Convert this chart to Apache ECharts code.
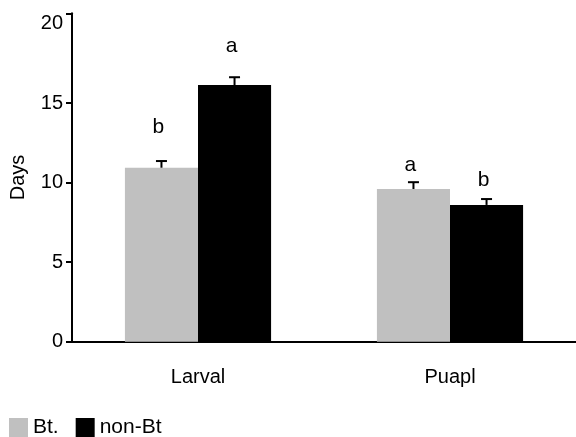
<!DOCTYPE html>
<html><head><meta charset="utf-8">
<script src="https://cdn.jsdelivr.net/npm/echarts@6/dist/echarts.min.js"></script>
<style>html,body{margin:0;padding:0;background:#fff}#c{width:576px;height:437px}</style>
</head><body><div id="c"></div>
<script>
var categories = ['Larval', 'Puapl'];
var seriesNames = ['Bt.', 'non-Bt'];
var btValues = [10.94, 9.6];
var nonBtValues = [16.14, 8.6];
var btErrors = [0.42, 0.43];
var nonBtErrors = [0.49, 0.37];
var btLetters = ['b', 'a'];
var nonBtLetters = ['a', 'b'];
var btLetterPos = [13.5, 11.1];
var nonBtLetterPos = [18.55, 10.15];
var yLabelValues = [0, 5, 10, 15, 20];
var yTickValues = [0, 5, 10, 15, 20.65];

var FONT = 'Liberation Sans, Arial, sans-serif';
var FS = 20;
var BAR_FRAC = 0.29;

function errSeries(vals, errs, side) {
  return {
    type: 'custom', silent: true, z: 5,
    data: vals.map(function (v, i) { return [i, v, v + errs[i]]; }),
    renderItem: function (params, api) {
      var bw = api.size([1, 0])[0] * BAR_FRAC;
      var x = api.coord([api.value(0), 0])[0] + side * bw / 2;
      var y0 = api.coord([api.value(0), api.value(1)])[1];
      var y1 = api.coord([api.value(0), api.value(2)])[1];
      var st = { stroke: '#000', lineWidth: 2 };
      return { type: 'group', children: [
        { type: 'line', shape: { x1: x, y1: y0, x2: x, y2: y1 }, style: st },
        { type: 'line', shape: { x1: x - 5.5, y1: y1, x2: x + 5.5, y2: y1 }, style: st }
      ]};
    }
  };
}
function letterSeries(pos, letters, side) {
  return {
    type: 'custom', silent: true, z: 6,
    data: pos.map(function (v, i) { return [i, v]; }),
    renderItem: function (params, api) {
      var bw = api.size([1, 0])[0] * BAR_FRAC;
      var p = api.coord([api.value(0), api.value(1)]);
      return { type: 'text', style: {
        x: p[0] + side * bw / 2 - 3, y: p[1], text: letters[params.dataIndex],
        font: '21px ' + FONT, fill: '#000', align: 'center', verticalAlign: 'middle'
      }};
    }
  };
}

var chart = echarts.init(document.getElementById('c'), null, { renderer: 'canvas' });
chart.setOption({
  animation: false,
  backgroundColor: '#fff',
  grid: { left: 72, right: 0, top: 13.3, bottom: 95.3, containLabel: false },
  legend: {
    left: 9, top: 417, padding: 0, itemWidth: 19, itemHeight: 19, itemGap: 17, icon: 'rect',
    textStyle: { fontFamily: FONT, fontSize: 21, color: '#000' },
    data: seriesNames
  },
  xAxis: {
    type: 'category', data: categories,
    axisLine: { lineStyle: { color: '#000', width: 2 } },
    axisTick: { show: false },
    axisLabel: { margin: 26, fontFamily: FONT, fontSize: FS, color: '#000' }
  },
  yAxis: {
    type: 'value', min: 0, max: 20.65, interval: 5,
    name: 'Days', nameLocation: 'middle', nameGap: 44,
    nameTextStyle: { fontFamily: FONT, fontSize: FS, color: '#000' },
    axisLine: { show: true, lineStyle: { color: '#000', width: 2 } },
    axisTick: { show: true, length: 6, customValues: yTickValues, lineStyle: { color: '#000', width: 2 } },
    axisLabel: { margin: 9, customValues: yLabelValues, fontFamily: FONT, fontSize: FS, color: '#000' },
    splitLine: { show: false }
  },
  series: [
    { name: seriesNames[0], type: 'bar', data: btValues, barWidth: (BAR_FRAC * 100) + '%', barGap: '0%', itemStyle: { color: '#c0c0c0' } },
    { name: seriesNames[1], type: 'bar', data: nonBtValues, barWidth: (BAR_FRAC * 100) + '%', barGap: '0%', itemStyle: { color: '#000' } },
    errSeries(btValues, btErrors, -1),
    errSeries(nonBtValues, nonBtErrors, 1),
    letterSeries(btLetterPos, btLetters, -1),
    letterSeries(nonBtLetterPos, nonBtLetters, 1)
  ]
});
</script></body></html>
